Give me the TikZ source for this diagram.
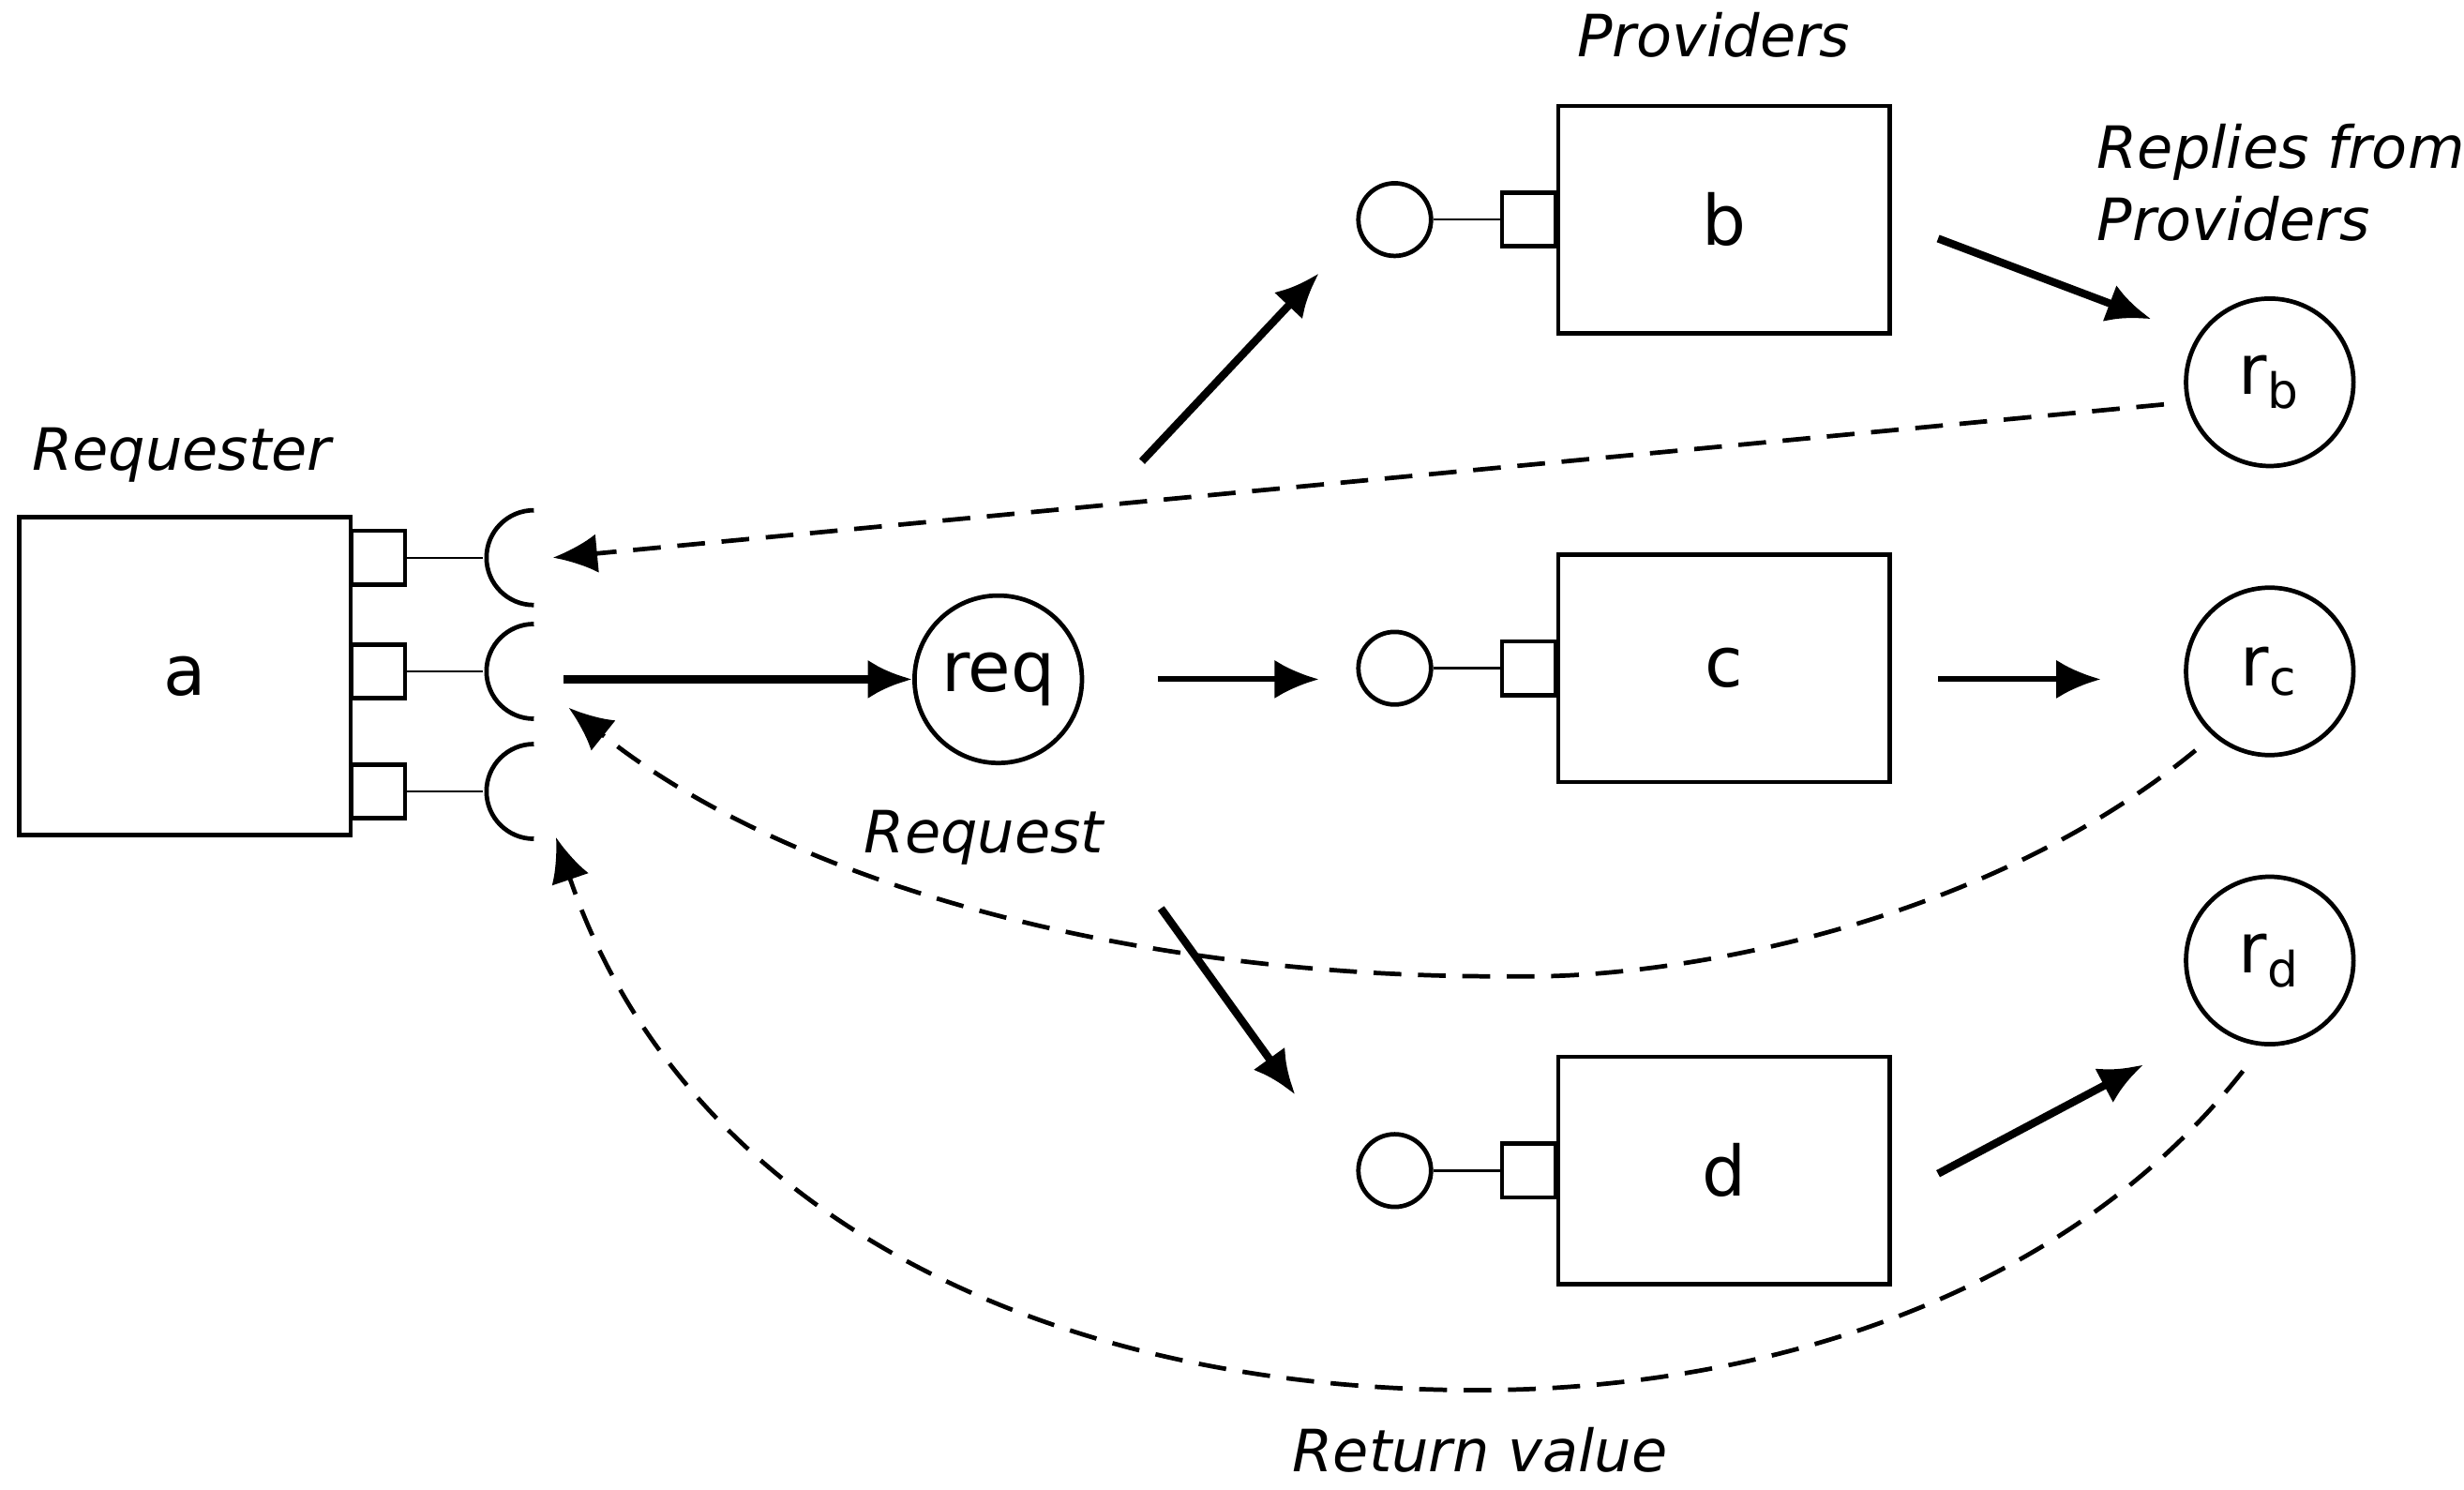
\documentclass[tikz,border=0pt]{standalone}
\usepackage{fontspec}
\setmainfont{DejaVu Sans}
\usetikzlibrary{arrows.meta}
\tikzset{
  box/.style={draw, thick, minimum width=2.1cm, minimum height=1.44cm, font=\fontsize{12.5}{15}\selectfont},
  port/.style={draw, thick, minimum size=0.34cm, inner sep=0pt},
  msg/.style={draw, thick, circle, minimum size=1.06cm, inner sep=0pt, font=\fontsize{12.5}{15}\selectfont},
  svc/.style={draw, thick, circle, minimum size=0.46cm, inner sep=0pt},
  caption/.style={font=\itshape\fontsize{10.5}{13}\selectfont},
  flow/.style={-{Latex[length=8pt,width=7pt]}, line width=1.4pt},
  back/.style={-{Latex[length=8pt,width=7pt]}, thick, dash pattern=on 5pt off 3pt}
}
\begin{document}
\begin{tikzpicture}[y=-1cm]
\useasboundingbox (0,0) rectangle (15.6,9.43);
% requester
\node[box, minimum width=2.1cm, minimum height=2.01cm] (a) at (1.17,4.28) {a};
\foreach \n/\y in {1/3.53,2/4.25,3/5.01}{
  \node[port] (ap\n) at (2.395,\y) {};
  \draw (ap\n.east) -- ++(0.48,0);
  \draw[thick] (3.38,\y+0.3) arc (90:270:0.3);
  \coordinate (s\n) at (3.5,\y);
}
\node[caption] (lreq) at (1.15,2.88) {Requester};
% request
\node[msg] (req) at (6.32,4.3) {req};
\node[caption] (lrq) at (6.23,5.3) {Request};
% providers
\foreach \p/\y in {b/1.39,c/4.23,d/7.41}{
  \node[box] (\p) at (10.915,\y) {\p};
  \node[port] (\p p) at (9.68,\y) {};
  \node[svc] (\p s) at (8.83,\y) {};
  \draw (\p s) -- (\p p);
}
\node[caption] (lprov) at (10.85,0.22) {Providers};
\node[caption, align=left, anchor=north west, inner sep=0pt] (lrep) at (13.27,0.78) {Replies from\\Providers};
% replies
\node[msg] (rb) at (14.37,2.42) {r\textsubscript{b}};
\node[msg] (rc) at (14.37,4.25) {r\textsubscript{c}};
\node[msg] (rd) at (14.37,6.08) {r\textsubscript{d}};
% arrows
\draw[flow] (3.57,4.3) -- (req);
\draw[flow, line width=1pt] (7.33,4.3) -- (8.35,4.3);
\draw[flow] (7.23,2.92) -- (8.35,1.73);
\draw[flow] (7.35,5.75) -- (8.2,6.93);
\draw[flow] (12.27,1.51) -- (13.62,2.02);
\draw[flow, line width=1pt] (12.27,4.3) -- (13.3,4.3);
\draw[flow] (12.27,7.43) -- (13.57,6.74);
% returns
\draw[back] (13.7,2.56) -- (s1);
\draw[back] (13.9,4.75) .. controls (12.5,5.9) and (10.5,6.2) .. (9.6,6.18)
  .. controls (7.2,6.2) and (5,5.6) .. (3.6,4.48);
\draw[back] (14.2,6.78) .. controls (13,8.3) and (11,8.8) .. (9.35,8.8)
  .. controls (6.5,8.8) and (4.3,7.6) .. (3.52,5.3);
\node[caption] (lret) at (9.37,9.18) {Return value};
\end{tikzpicture}
\end{document}
